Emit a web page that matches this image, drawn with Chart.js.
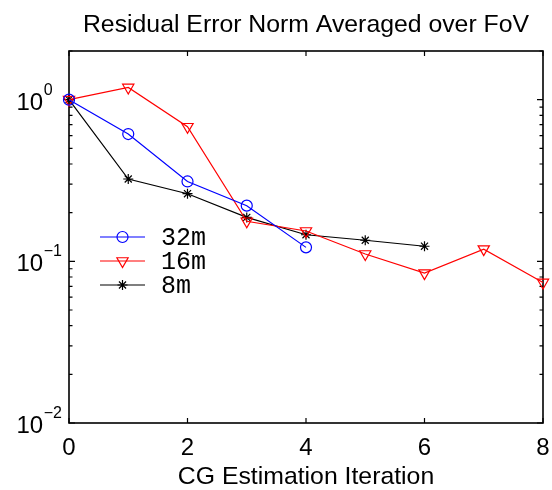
<!DOCTYPE html>
<html>
<head>
<meta charset="utf-8">
<script src="https://cdn.jsdelivr.net/npm/chart.js@4.4.0/dist/chart.umd.min.js"></script>
<style>
    body { margin: 0; background: #fff; }
    #grafico_box { width: 552px; height: 490px; position: relative; }
</style>
</head>
<body>
<div id="grafico_box"><canvas id="grafico"></canvas></div>
<script>

// dados
var iteracoes = [0, 1, 2, 3, 4, 5, 6, 7, 8];
var erro32m = [1.0, 0.613, 0.312, 0.221, 0.122];
var erro16m = [1.0, 1.19, 0.68, 0.177, 0.154, 0.111, 0.0845, 0.119, 0.074];
var erro8m = [1.0, 0.323, 0.262, 0.187, 0.146, 0.135, 0.124];
var nomes = ['32m', '16m', '8m'];

var ticksX = [0, 2, 4, 6, 8];
var ticksY = [0.01, 0.1, 1];
var expoentesY = ['\u22122', '\u22121', '0'];

var titulo = 'Residual Error Norm Averaged over FoV';
var tituloX = 'CG Estimation Iteration';

function pontos(valores) {
    return valores.map(function (v, i) { return { x: iteracoes[i], y: v }; });
}

const data = {
    datasets: [{
        label: nomes[0],
        data: pontos(erro32m),
        borderColor: '#0000ff',
        backgroundColor: 'rgba(0,0,0,0)',
        pointStyle: 'circle',
        pointRadius: 5.5,
        pointBorderWidth: 1.2,
        borderWidth: 1.2,
        clip: false
    }, {
        label: nomes[1],
        data: pontos(erro16m),
        borderColor: '#ff0000',
        backgroundColor: 'rgba(0,0,0,0)',
        pointStyle: 'triangle',
        pointRotation: 180,
        pointRadius: 6.5,
        pointBorderWidth: 1.2,
        borderWidth: 1.2,
        clip: false
    }, {
        label: nomes[2],
        data: pontos(erro8m),
        borderColor: '#000000',
        backgroundColor: 'rgba(0,0,0,0)',
        pointStyle: 'star',
        pointRadius: 5,
        pointBorderWidth: 1.2,
        borderWidth: 1.2,
        clip: false
    }]
};

// eixo estilo matlab: caixa, ticks pra dentro, rotulos 10^n
const eixos = {
    id: 'eixos',
    beforeDatasetsDraw(chart) {
        const ctx = chart.ctx;
        const a = chart.chartArea;
        const sx = chart.scales.x;
        const sy = chart.scales.y;
        ctx.save();
        ctx.strokeStyle = '#000';
        ctx.lineWidth = 1.6;
        ctx.strokeRect(a.left, a.top, a.right - a.left, a.bottom - a.top);

        ctx.lineWidth = 1.2;
        ctx.beginPath();
        ticksX.forEach(function (v) {
            const px = sx.getPixelForValue(v);
            ctx.moveTo(px, a.bottom); ctx.lineTo(px, a.bottom - 5);
            ctx.moveTo(px, a.top); ctx.lineTo(px, a.top + 5);
        });
        for (let e = -2; e <= 0; e++) {
            for (let k = 1; k <= 9; k++) {
                const v = k * Math.pow(10, e);
                if (v > sy.max + 1e-9) break;
                const py = sy.getPixelForValue(v);
                const len = (k === 1) ? 6 : 3.5;
                ctx.moveTo(a.left, py); ctx.lineTo(a.left + len, py);
                ctx.moveTo(a.right, py); ctx.lineTo(a.right - len, py);
            }
        }
        ctx.stroke();
        ctx.restore();
    },
    afterDraw(chart) {
        const ctx = chart.ctx;
        const a = chart.chartArea;
        const sx = chart.scales.x;
        const sy = chart.scales.y;
        ctx.save();
        ctx.fillStyle = '#000';

        // titulo
        ctx.font = '24.8px "Liberation Sans", Arial, sans-serif';
        ctx.textAlign = 'center';
        ctx.textBaseline = 'alphabetic';
        ctx.fillText(titulo, (a.left + a.right) / 2, 32);
        ctx.fillText(tituloX, (a.left + a.right) / 2, 483.5);

        // rotulos x
        ctx.font = '24px "Liberation Sans", Arial, sans-serif';
        ticksX.forEach(function (v) {
            ctx.fillText(String(v), sx.getPixelForValue(v), 455);
        });

        // rotulos y
        ctx.textAlign = 'left';
        ticksY.forEach(function (v, i) {
            const py = sy.getPixelForValue(v);
            ctx.font = '24px "Liberation Sans", Arial, sans-serif';
            ctx.fillText('10', 16.5, py + 10);
            const w = ctx.measureText('10').width;
            ctx.font = '16px "Liberation Sans", Arial, sans-serif';
            ctx.fillText(expoentesY[i], 16.5 + w + 0.5, py - 5);
        });

        // legenda
        const yLeg = [237, 261, 285];
        chart.data.datasets.forEach(function (ds, i) {
            ctx.strokeStyle = ds.borderColor;
            ctx.lineWidth = 1.2;
            ctx.beginPath();
            ctx.moveTo(100, yLeg[i]);
            ctx.lineTo(145, yLeg[i]);
            ctx.stroke();
            ctx.fillStyle = 'rgba(0,0,0,0)';
            Chart.helpers.drawPoint(ctx, {
                pointStyle: ds.pointStyle,
                rotation: ds.pointRotation || 0,
                radius: ds.pointRadius,
                borderWidth: ds.pointBorderWidth
            }, 122.5, yLeg[i]);
            ctx.fillStyle = '#000';
            ctx.font = '25px "Liberation Mono", "Courier New", monospace';
            ctx.fillText(ds.label, 161, yLeg[i] + 8);
        });
        ctx.restore();
    }
};

const config = {
    type: 'line',
    data: data,
    options: {
        responsive: true,
        maintainAspectRatio: false,
        animation: false,
        layout: { padding: { left: 69, right: 9, top: 51, bottom: 67 } },
        plugins: {
            legend: { display: false },
            tooltip: { enabled: false },
            title: { display: false }
        },
        scales: {
            x: {
                type: 'linear',
                min: 0,
                max: 8,
                ticks: { display: false },
                grid: { display: false, drawTicks: false },
                border: { display: false }
            },
            y: {
                type: 'logarithmic',
                min: 0.01,
                max: 2,
                ticks: { display: false },
                grid: { display: false, drawTicks: false },
                border: { display: false }
            }
        }
    },
    plugins: [eixos]
};

const grafico = new Chart(document.getElementById('grafico'), config);
</script>
</body>
</html>
